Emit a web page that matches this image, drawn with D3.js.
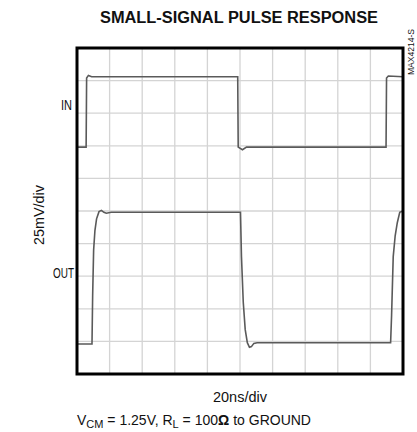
<!DOCTYPE html>
<meta charset="utf-8">
<script src="https://d3js.org/d3.v7.min.js"></script>
<style>
  body { margin: 0; background: #fff; }
  text { font-family: "Liberation Sans Narrow", "Liberation Sans", Arial, sans-serif; fill: #111; }
</style>
<div id="chart"></div>
<script>

// scope settings: 20ns/div horizontally, 25mV/div vertically, 10 x 10 divisions
var timeTicks = d3.range(0, 201, 20);
var voltTicks = d3.range(0, 251, 25);

// input pulse (ns, mV)
var inTime = [0, 5.6, 5.9, 7, 9, 98.6, 98.9, 101.5, 104, 189.6, 189.9, 191, 200];
var inVolt = [174, 174, 227, 229, 228, 228, 174, 172, 174, 174, 227, 228.5, 228];

// output pulse (ns, mV)
var outTime = [0, 9.2, 9.6, 10.2, 11, 12, 13.5, 15, 16.5, 18, 21, 100.3, 100.9, 102, 103.2, 104.5, 105.8, 107, 108.5, 110.5, 192.4, 193, 194, 195.2, 196.5, 198, 200];
var outVolt = [23, 23, 60, 95, 110, 119, 124.5, 125.5, 124, 123.3, 124, 124, 90, 55, 34, 24, 20.5, 21, 23.5, 24, 24, 45, 90, 106, 116, 124, 125];

var width = 417, height = 432;
var margin = {top: 48, right: 14, bottom: 58, left: 77};

var svg = d3.select("#chart")
  .append("svg")
    .attr("width", width)
    .attr("height", height);

var x = d3.scaleLinear()
  .domain([0, 200])
  .range([margin.left, width - margin.right]);

var y = d3.scaleLinear()
  .domain([0, 250])
  .range([height - margin.bottom, margin.top]);

// grid
svg.append("g")
  .selectAll("line")
  .data(timeTicks.slice(1, -1))
  .enter().append("line")
    .attr("x1", function(d) { return x(d); })
    .attr("x2", function(d) { return x(d); })
    .attr("y1", y(250))
    .attr("y2", y(0))
    .attr("stroke", "#d4d4d4")
    .attr("stroke-width", 1.3);

svg.append("g")
  .selectAll("line")
  .data(voltTicks.slice(1, -1))
  .enter().append("line")
    .attr("y1", function(d) { return y(d); })
    .attr("y2", function(d) { return y(d); })
    .attr("x1", x(0))
    .attr("x2", x(200))
    .attr("stroke", "#d4d4d4")
    .attr("stroke-width", 1.3);

// traces
var line = d3.line()
  .x(function(d) { return x(d[0]); })
  .y(function(d) { return y(d[1]); });

svg.append("path")
  .datum(d3.zip(inTime, inVolt))
  .attr("d", line)
  .attr("fill", "none")
  .attr("stroke", "#5a5a5a")
  .attr("stroke-width", 1.6);

svg.append("path")
  .datum(d3.zip(outTime, outVolt))
  .attr("d", line)
  .attr("fill", "none")
  .attr("stroke", "#5a5a5a")
  .attr("stroke-width", 1.6);

// frame
svg.append("rect")
  .attr("x", x(0))
  .attr("y", y(250))
  .attr("width", x(200) - x(0))
  .attr("height", y(0) - y(250))
  .attr("fill", "none")
  .attr("stroke", "#000")
  .attr("stroke-width", 3);

// title
svg.append("text")
  .attr("x", 239)
  .attr("y", 23)
  .attr("text-anchor", "middle")
  .attr("font-weight", "bold")
  .attr("font-size", 16)
  .attr("textLength", 278)
  .attr("lengthAdjust", "spacingAndGlyphs")
  .text("SMALL-SIGNAL PULSE RESPONSE");

// trace labels
svg.append("text")
  .attr("x", 72)
  .attr("y", 110)
  .attr("text-anchor", "end")
  .attr("font-size", 15.5)
  .attr("textLength", 11)
  .attr("lengthAdjust", "spacingAndGlyphs")
  .text("IN");

svg.append("text")
  .attr("x", 74)
  .attr("y", 278)
  .attr("text-anchor", "end")
  .attr("font-size", 15.5)
  .attr("textLength", 21)
  .attr("lengthAdjust", "spacingAndGlyphs")
  .text("OUT");

svg.append("text")
  .attr("transform", "translate(44,215) rotate(-90)")
  .attr("text-anchor", "middle")
  .attr("font-size", 15)
  .attr("textLength", 60)
  .attr("lengthAdjust", "spacingAndGlyphs")
  .text("25mV/div");

// figure id on the right
svg.append("text")
  .attr("transform", "translate(414,75) rotate(-90)")
  .attr("font-size", 9)
  .attr("textLength", 46)
  .attr("lengthAdjust", "spacingAndGlyphs")
  .text("MAX4214-S");

// horizontal scale
svg.append("text")
  .attr("x", 240)
  .attr("y", 402)
  .attr("text-anchor", "middle")
  .attr("font-size", 15)
  .attr("textLength", 54)
  .attr("lengthAdjust", "spacingAndGlyphs")
  .text("20ns/div");

// conditions
var note = svg.append("text")
  .attr("x", 77)
  .attr("y", 425)
  .attr("font-size", 14);
note.append("tspan").text("V");
note.append("tspan").attr("font-size", 11).attr("dy", 3).text("CM");
note.append("tspan").attr("dy", -3).text(" = 1.25V, R");
note.append("tspan").attr("font-size", 11).attr("dy", 3).text("L");
note.append("tspan").attr("dy", -3).text(" = 100");
note.append("tspan").attr("font-weight", "bold").text("\u03A9");
note.append("tspan").text(" to GROUND");

</script>
